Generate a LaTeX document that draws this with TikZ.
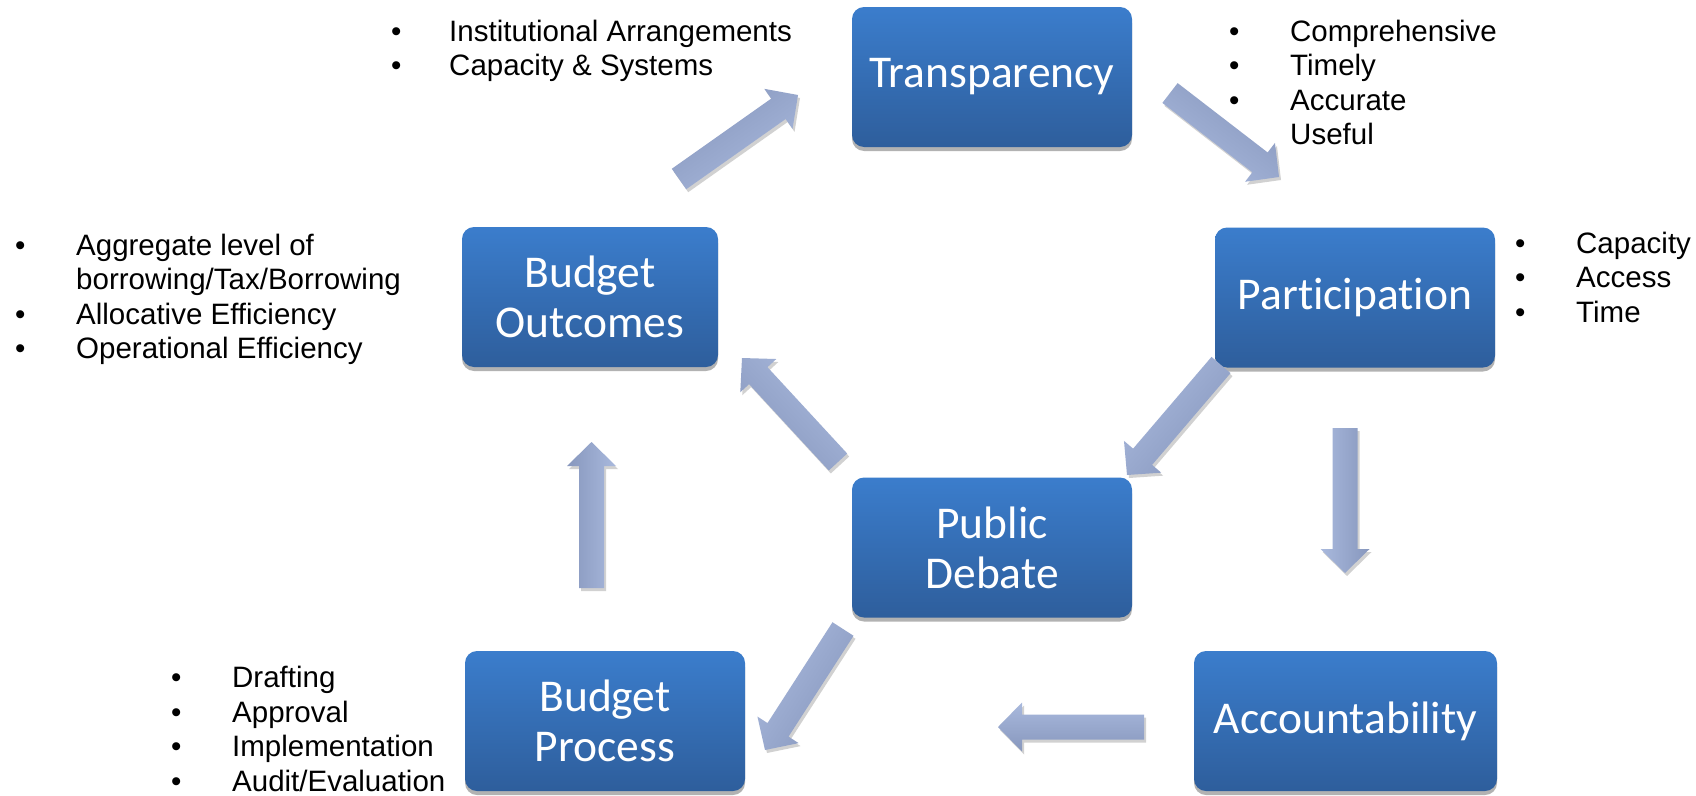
\documentclass[tikz,border=0pt]{standalone}
\usepackage{fontspec}
\setmainfont{Liberation Sans}
\newfontfamily\boxfont[Ligatures={NoCommon}]{Carlito}
\usetikzlibrary{calc,shadows}
\definecolor{boxtop}{HTML}{3B7DCC}
\definecolor{boxbot}{HTML}{2E5E9C}
\definecolor{arrlight}{HTML}{A9B9DD}
\definecolor{arrdark}{HTML}{8797BD}
\tikzset{
  stage/.style={rounded corners=12pt, top color=boxtop, bottom color=boxbot,
    minimum height=140pt, minimum width=280pt, inner sep=0pt, align=center,
    text=white, font=\boxfont\fontsize{45.5}{50}\selectfont,
    drop shadow={shadow xshift=0pt, shadow yshift=-4pt, opacity=0.3, fill=black}},
  listtext/.style={inner sep=0pt, align=left, anchor=base west,
    font=\fontsize{29.5}{34.5}\selectfont},
  flow/.style={top color=arrlight, bottom color=arrdark},
  flowshadow/.style={drop shadow={shadow xshift=2pt, shadow yshift=-3pt, opacity=0.18, fill=black}}
}
\newcommand{\bl}[1][61pt]{\makebox[#1][l]{•}}
\newcommand{\nobl}[1][61pt]{\makebox[#1][l]{}}
% #1 tail, #2 tip, #3 shading angle
\newcommand{\flowarrow}[3]{%
  \coordinate (fab) at ($(#2)!24pt!(#1)$);
  \path[flow, shading angle=#3, flowshadow]
    ($(#1)!12.5pt!90:(#2)$) -- ($(fab)!12.5pt!90:(#2)$) -- ($(fab)!24.5pt!90:(#2)$)
    -- (#2) -- ($(fab)!24.5pt!-90:(#2)$) -- ($(fab)!12.5pt!-90:(#2)$)
    -- ($(#1)!12.5pt!-90:(#2)$) -- cycle;}
\begin{document}
\begin{tikzpicture}[x=1pt,y=-1pt]
\useasboundingbox[fill=white] (0,0) rectangle (1696,795);

% stages
\node[stage] (trans) at (992,77) {Transparency};
\node[stage, minimum width=256pt] (outc) at (590,297) {Budget\\Outcomes};
\node[stage] (part) at (1355,297.5) {Part\kern0pt icipat\kern0pt ion};
\node[stage] (debate) at (992,547.5) {Public\\Debate};
\node[stage] (proc) at (605,721) {Budget\\Process};
\node[stage, minimum width=303pt] (acct) at (1345.5,721) {Accountability};

% arrow end points
\coordinate (a1s) at (679,179);   \coordinate (a1e) at (798,95);
\coordinate (a2s) at (1170,93);   \coordinate (a2e) at (1279,177);
\coordinate (a3s) at (1345,428);  \coordinate (a3e) at (1345,573);
\coordinate (a4s) at (1221,365);  \coordinate (a4e) at (1127,475);
\coordinate (a5s) at (838,462);   \coordinate (a5e) at (742,358);
\coordinate (a6s) at (843,629);   \coordinate (a6e) at (765,750);
\coordinate (a7s) at (1144,727);  \coordinate (a7e) at (998,727);
\coordinate (a8s) at (591.5,588); \coordinate (a8e) at (591.5,442);

\flowarrow{a1s}{a1e}{-144.8}
\flowarrow{a2s}{a2e}{-217.3}
\flowarrow{a3s}{a3e}{-270}
\flowarrow{a4s}{a4e}{49.5}
\flowarrow{a5s}{a5e}{-46.8}
\flowarrow{a6s}{a6e}{57.2}
\flowarrow{a7s}{a7e}{0}
\flowarrow{a8s}{a8e}{-90}

% bullet lists (anchored at the baseline of their last line)
\node[listtext] (ltrans) at (391,75.5) {\bl[58pt]Institutional Arrangements\\\bl[58pt]Capacity \& Systems};
\node[listtext] (lqual) at (1229,144.5) {\bl Comprehensive\\\bl Timely\\\bl Accurate\\\nobl Useful};
\node[listtext] (lpart) at (1515,322) {\bl Capacity\\\bl Access\\\bl Time};
\node[listtext] (loutc) at (15,358.5) {\bl Aggregate level of\\\nobl borrowing/Tax/Borrowing\\\bl Allocative Efficiency\\\bl Operational Efficiency};
\node[listtext] (lproc) at (171,791) {\bl Drafting\\\bl Approval\\\bl Implementation\\\bl Audit/Evaluation};
\end{tikzpicture}
\end{document}
